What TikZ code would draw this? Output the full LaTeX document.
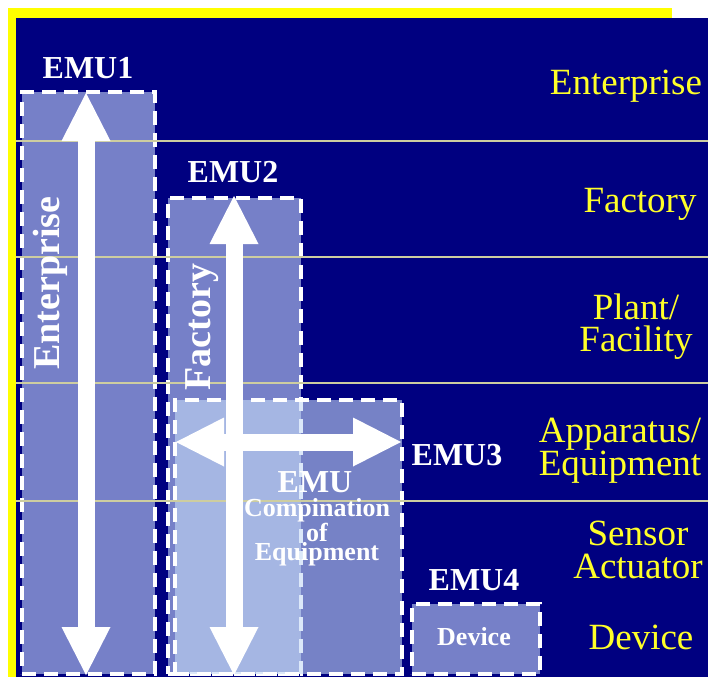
\documentclass[tikz,border=0pt]{standalone}
\usepackage{fontspec}
\setmainfont{Liberation Serif}
\usetikzlibrary{arrows.meta}
\definecolor{navy}{RGB}{0,0,128}
\definecolor{frameyellow}{RGB}{255,255,0}
\definecolor{unitblue}{RGB}{118,128,200}
\definecolor{paleblue}{RGB}{197,218,245}
\definecolor{levelline}{RGB}{205,205,160}
\definecolor{lvltext}{RGB}{255,255,40}
\begin{document}
\begin{tikzpicture}[x=1pt,y=-1pt,
  unit/.style={draw=white, line width=3.5pt, dash pattern=on 14pt off 8pt,
    fill=unitblue, inner sep=0pt, outer sep=0pt, anchor=north west},
  unitlabel/.style={text=white, font=\fontsize{32}{32}\selectfont\bfseries, inner sep=0pt},
  spanlabel/.style={text=white, font=\fontsize{38}{38}\selectfont\bfseries, inner sep=0pt, rotate=90},
  level/.style={text=lvltext, font=\fontsize{37}{32}\selectfont, align=center, inner sep=0pt},
  span/.style={white, line width=17pt,
    arrows={Triangle[length=48pt,width=49pt,line width=0pt]-Triangle[length=48pt,width=49pt,line width=0pt]}},
  levelrule/.style={levelline, line width=1.2pt}]

\useasboundingbox (0,0) rectangle (708,677);
% frame and background
\fill[white] (0,0) rectangle (708,677);
\fill[frameyellow] (8,8) rectangle (672,18);
\fill[frameyellow] (8,8) rectangle (16,677);
\fill[navy] (16,18) rectangle (708,677);

% management units
\node[unit, minimum width=133pt, minimum height=582pt] (emu1) at (22,92) {};
\node[unit, minimum width=133pt, minimum height=476pt] (emu2) at (168,198) {};
\node[unit, fill=paleblue, fill opacity=0.6, minimum width=227pt, minimum height=274pt] (emu3) at (175,400) {};
\node[unit, minimum width=128pt, minimum height=70pt] (emu4) at (412,604) {};

% level boundaries
\draw[levelrule] (16,141) -- (708,141);
\draw[levelrule] (16,257) -- (708,257);
\draw[levelrule] (16,383) -- (708,383);
\draw[levelrule] (16,501) -- (708,501);

% span arrows
\coordinate (a1t) at (86,93);
\coordinate (a1b) at (86,675);
\coordinate (a2t) at (234,196);
\coordinate (a2b) at (234,675);
\coordinate (a3l) at (176,442);
\coordinate (a3r) at (401,442);
\draw[span] (a1t) -- (a1b);
\draw[span] (a2t) -- (a2b);
\draw[span] (a3l) -- (a3r);

% unit labels
\node[unitlabel] (l1) at (88,68) {EMU1};
\node[unitlabel] (l2) at (233,172) {EMU2};
\node[unitlabel] (l3) at (457,455) {EMU3};
\node[unitlabel] (l4) at (474,580) {EMU4};
\node[spanlabel] (s1) at (50,283) {Enterprise};
\node[spanlabel] (s2) at (202,327) {Factory};
\node[unitlabel] (emuc) at (315,482) {EMU};
\node[text=white, font=\fontsize{26}{19}\selectfont\bfseries, align=center, inner sep=0pt] (combo) at (317,532) {Compination\\of\\Equipment};
\node[text=white, font=\fontsize{26}{26}\selectfont\bfseries, inner sep=0pt] (dev) at (474,637) {Device};

% level names
\node[level] (v1) at (626,86) {Enterprise};
\node[level] (v2) at (640,204) {Factory};
\node[level] (v3) at (636,327) {Plant/\\Facility};
\node[level, font=\fontsize{37}{28}\selectfont] (v4) at (620,451) {Apparatus/\\Equipment};
\node[level, font=\fontsize{37}{33}\selectfont] (v5) at (638,550) {Sensor\\Actuator};
\node[level] (v6) at (641,637) {Device};
\end{tikzpicture}
\end{document}
